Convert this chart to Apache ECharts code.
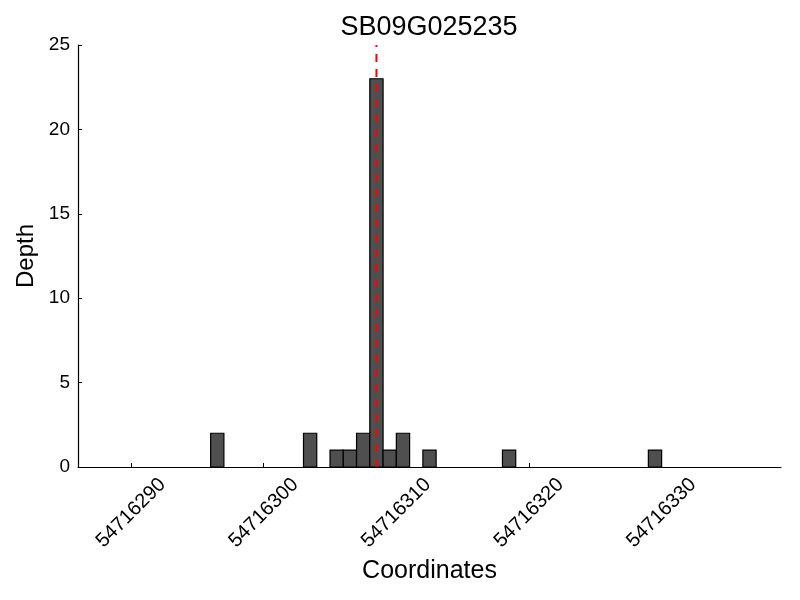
<!DOCTYPE html>
<html>
<head>
<meta charset="utf-8">
<script src="https://cdn.jsdelivr.net/npm/echarts@6/dist/echarts.min.js"></script>
<style>
  html, body { margin: 0; padding: 0; background: #fff; }
  #chart { width: 800px; height: 600px; }
</style>
</head>
<body>
<div id="chart"></div>
<script>
// ---- data ----
const titleText = 'SB09G025235';
const xAxisName = 'Coordinates';
const yAxisName = 'Depth';
const positions = [54716296, 54716303, 54716305, 54716306, 54716307, 54716308, 54716309, 54716310, 54716312, 54716318, 54716329];
const depths    = [2,        2,        1,        1,        2,        23,       1,        2,        1,        1,        1];
const xTicks = [54716290, 54716300, 54716310, 54716320, 54716330];
const yTicks = [0, 5, 10, 15, 20, 25];
const xRange = [54716286, 54716339];
const yRange = [0, 25];
const markerPos = 54716308.5;

const FONT = '"Liberation Sans", Arial, Helvetica, sans-serif';

const barData = positions.map((p, i) => [p, depths[i]]);

const chart = echarts.init(document.getElementById('chart'), null, { renderer: 'canvas' });

chart.setOption({
  animation: false,
  backgroundColor: '#ffffff',
  textStyle: { fontFamily: FONT },
  grid: { left: 78, right: 19, top: 45, bottom: 133, containLabel: false },
  graphic: [{
    type: 'text',
    x: 429, y: 28,
    style: {
      text: titleText,
      font: '27px ' + FONT,
      fill: '#000',
      align: 'center',
      verticalAlign: 'middle'
    }
  }],
  xAxis: {
    type: 'value',
    min: xRange[0],
    max: xRange[1],
    name: xAxisName,
    nameLocation: 'middle',
    nameGap: 100,
    nameTextStyle: { fontSize: 25, color: '#000', fontFamily: FONT, verticalAlign: 'middle' },
    splitLine: { show: false },
    axisLine: { show: true, onZero: false, lineStyle: { color: '#000', width: 1.2 } },
    axisTick: { show: true, inside: true, length: 4, customValues: xTicks, lineStyle: { color: '#000', width: 1 } },
    axisLabel: {
      show: true,
      customValues: xTicks,
      rotate: 45,
      align: 'center',
      verticalAlign: 'middle',
      margin: 46,
      fontSize: 20,
      color: '#000',
      fontFamily: FONT,
      formatter: v => String(v)
    }
  },
  yAxis: {
    type: 'value',
    min: yRange[0],
    max: yRange[1],
    name: yAxisName,
    nameLocation: 'middle',
    nameGap: 52,
    nameRotate: 90,
    nameTextStyle: { fontSize: 24, color: '#000', fontFamily: FONT, verticalAlign: 'middle' },
    splitLine: { show: false },
    axisLine: { show: true, lineStyle: { color: '#000', width: 1.2 } },
    axisTick: { show: true, inside: true, length: 4, customValues: yTicks, lineStyle: { color: '#000', width: 1 } },
    axisLabel: {
      show: true,
      customValues: yTicks,
      margin: 8,
      fontSize: 19,
      color: '#000',
      fontFamily: FONT
    }
  },
  series: [
    {
      type: 'custom',
      data: barData,
      encode: { x: 0, y: 1 },
      renderItem: function (params, api) {
        const x = api.value(0);
        const h = api.value(1);
        const p0 = api.coord([x, h]);
        const p1 = api.coord([x + 1, 0]);
        return {
          type: 'rect',
          shape: { x: p0[0], y: p0[1], width: p1[0] - p0[0], height: p1[1] - p0[1] },
          style: { fill: '#4f4f4f', stroke: '#000', lineWidth: 1.2 }
        };
      },
      z: 2
    },
    {
      type: 'line',
      data: [[markerPos, yRange[0]], [markerPos, yRange[1]]],
      symbol: 'none',
      lineStyle: { color: '#ff0000', width: 2, type: [8, 7] },
      z: 5
    }
  ]
});
</script>
</body>
</html>
